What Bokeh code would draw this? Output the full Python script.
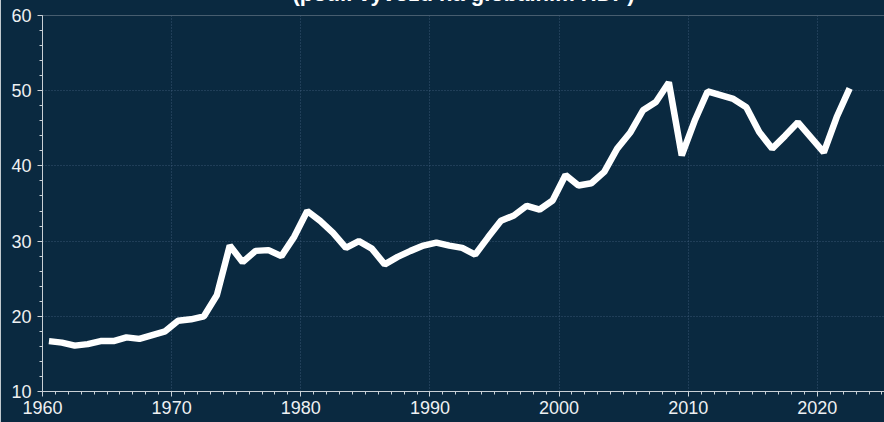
from bokeh.plotting import figure
from bokeh.models import SingleIntervalTicker, Range1d
from bokeh.embed import file_html
from bokeh.resources import INLINE

# --- data (share of exports in global GDP, %) ---
years = list(range(1960, 2023))
export_share = [
    16.7, 16.5, 16.1, 16.3, 16.7, 16.7, 17.2, 17.0, 17.5, 18.0,   # 1960-1969
    19.4, 19.6, 20.0, 22.8, 29.4, 27.2, 28.7, 28.8, 28.0, 30.6,   # 1970-1979
    34.0, 32.7, 31.1, 29.1, 30.0, 29.0, 26.9, 27.9, 28.7, 29.4,   # 1980-1989
    29.8, 29.4, 29.1, 28.2, 30.5, 32.7, 33.4, 34.7, 34.2, 35.4,   # 1990-1999
    38.8, 37.4, 37.7, 39.2, 42.3, 44.4, 47.4, 48.5, 51.1, 41.4,   # 2000-2009
    46.0, 49.9, 49.4, 48.9, 47.8, 44.5, 42.3, 44.0, 45.8, 43.8,   # 2010-2019
    41.8, 46.5, 50.3,                                             # 2020-2022
]
title_text = "(podíl vývozu na globálním HDP)"

x_mid = [y + 0.5 for y in years]   # annual values plotted at mid-year

BG = "#0a2940"
K = 42  # part of the canvas pushed above the window (cropped title, as in the reference)

p = figure(
    width=884, height=422 + K,
    x_range=Range1d(1960, 2025.2), y_range=Range1d(10, 60),
    output_backend="svg", toolbar_location=None,
    background_fill_color=BG, border_fill_color=BG,
    outline_line_color=None,
    min_border_left=42, min_border_right=0,
    min_border_bottom=31, min_border_top=15 + K,
    styles={"margin-top": f"-{K}px"},
)

p.title.text = title_text
p.title.align = "center"
p.title.text_color = "#ffffff"
p.title.text_font = "Liberation Sans"
p.title.text_font_style = "bold"
p.title.text_font_size = "22px"
p.title.standoff = 19

p.line(x_mid, export_share, line_color="#ffffff", line_width=6.5)

p.xaxis.ticker = SingleIntervalTicker(interval=10, num_minor_ticks=10)
p.yaxis.ticker = SingleIntervalTicker(interval=10, num_minor_ticks=5)
p.xgrid.ticker = p.xaxis.ticker
p.ygrid.ticker = p.yaxis.ticker

for ax in (p.xaxis, p.yaxis):
    ax.axis_line_color = "#c9d0d6"
    ax.axis_line_width = 1
    ax.major_tick_line_color = "#c9d0d6"
    ax.minor_tick_line_color = "#c9d0d6"
    ax.major_tick_out = 5
    ax.major_tick_in = 0
    ax.minor_tick_out = 3
    ax.minor_tick_in = 0
    ax.major_label_text_color = "#eef0f2"
    ax.major_label_text_font = "Liberation Sans"
    ax.major_label_text_font_size = "18px"
p.xaxis.major_label_standoff = 4
p.yaxis.major_label_standoff = 6

for g in (p.xgrid, p.ygrid):
    g.grid_line_color = "#4a6886"
    g.grid_line_alpha = 0.7
    g.grid_line_dash = "1 2"
    g.grid_line_width = 1

open("out.html", "w").write(file_html(p, INLINE))
